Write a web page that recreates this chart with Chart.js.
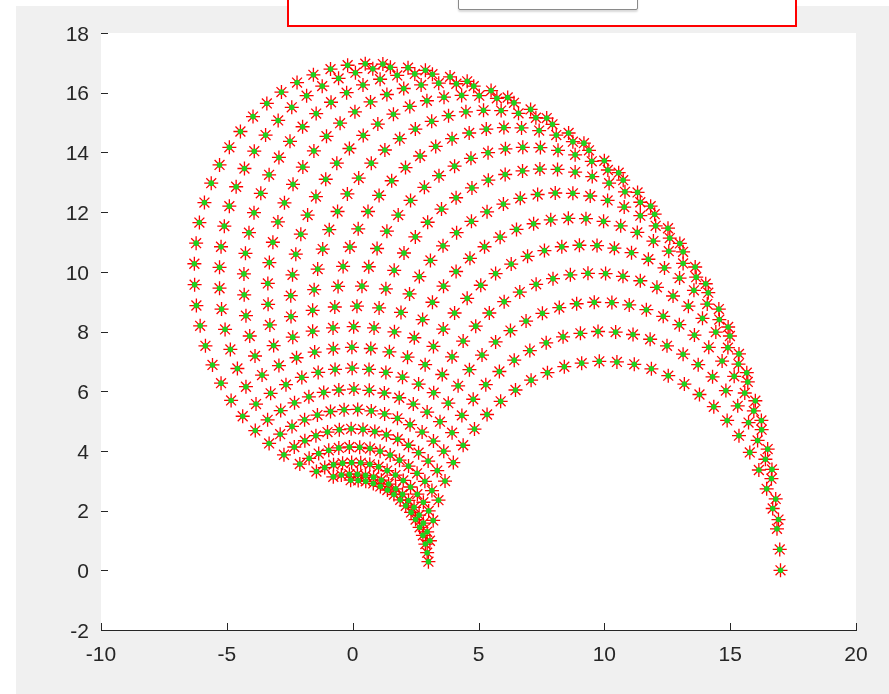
<!DOCTYPE html>
<html>
<head>
<meta charset="utf-8">
<script src="https://cdn.jsdelivr.net/npm/chart.js@4/dist/chart.umd.min.js"></script>
<style>
  html, body { margin: 0; padding: 0; background: #ffffff; }
  #wrap { position: relative; width: 889px; height: 694px; overflow: hidden; }
  #fig { position: absolute; left: 16px; top: 6px; right: 0; bottom: 0; background: #f0f0f0; }
  #frame { position: absolute; left: 287px; top: -6px; width: 506px; height: 29px;
           border: 2px solid #ff0000; background: #ffffff; }
  #tab { position: absolute; left: 458px; top: -12px; width: 178px; height: 20px;
         border: 1px solid #8a8a8a; border-radius: 2px; background: #ffffff;
         box-shadow: 0 2px 2px rgba(0,0,0,0.15); }
  canvas { position: absolute; left: 0; top: 0; }
</style>
</head>
<body>
<div id="wrap">
  <div id="fig"></div>
  <div id="frame"></div>
  <div id="tab"></div>
  <canvas id="myChart" width="889" height="694"></canvas>
</div>
<script>
const ctx = document.getElementById("myChart");

// one arc of end points per first-joint angle (16 arcs, 32 points each)
const x0 = [17.00, 16.97, 16.86, 16.69, 16.45, 16.14, 15.78, 15.35, 14.88, 14.35, 13.78, 13.18, 12.54, 11.87, 11.19, 10.50, 9.80, 9.10, 8.41, 7.74, 7.09, 6.47, 5.88, 5.34, 4.84, 4.39, 4.00, 3.67, 3.41, 3.20, 3.07, 3.01];
const y0 = [0.00, 0.70, 1.39, 2.07, 2.73, 3.36, 3.95, 4.51, 5.02, 5.48, 5.89, 6.24, 6.52, 6.75, 6.90, 6.98, 7.00, 6.94, 6.82, 6.62, 6.37, 6.04, 5.66, 5.22, 4.73, 4.19, 3.61, 2.99, 2.35, 1.67, 0.99, 0.29];
const x1 = [16.92, 16.81, 16.64, 16.40, 16.09, 15.73, 15.30, 14.83, 14.30, 13.73, 13.13, 12.49, 11.82, 11.14, 10.45, 9.75, 9.05, 8.36, 7.69, 7.04, 6.42, 5.83, 5.29, 4.79, 4.34, 3.95, 3.62, 3.36, 3.15, 3.02, 2.96, 2.96];
const y1 = [1.70, 2.39, 3.07, 3.72, 4.35, 4.95, 5.51, 6.02, 6.48, 6.89, 7.24, 7.52, 7.74, 7.90, 7.98, 8.00, 7.94, 7.82, 7.62, 7.36, 7.04, 6.66, 6.22, 5.73, 5.19, 4.61, 3.99, 3.34, 2.67, 1.99, 1.29, 0.59];
const x2 = [16.66, 16.49, 16.25, 15.94, 15.58, 15.16, 14.68, 14.15, 13.58, 12.98, 12.34, 11.67, 10.99, 10.30, 9.60, 8.90, 8.21, 7.54, 6.89, 6.27, 5.68, 5.14, 4.64, 4.19, 3.80, 3.47, 3.21, 3.00, 2.87, 2.81, 2.81, 2.89];
const y2 = [3.38, 4.06, 4.71, 5.34, 5.94, 6.50, 7.01, 7.47, 7.88, 8.23, 8.51, 8.73, 8.89, 8.97, 8.98, 8.93, 8.80, 8.61, 8.35, 8.03, 7.65, 7.21, 6.72, 6.18, 5.60, 4.98, 4.33, 3.66, 2.98, 2.28, 1.58, 0.88];
const x3 = [16.24, 16.00, 15.70, 15.33, 14.91, 14.43, 13.90, 13.34, 12.73, 12.09, 11.43, 10.74, 10.05, 9.35, 8.65, 7.96, 7.29, 6.64, 6.02, 5.43, 4.89, 4.39, 3.95, 3.56, 3.22, 2.96, 2.76, 2.62, 2.56, 2.57, 2.64, 2.79];
const y3 = [5.02, 5.68, 6.31, 6.91, 7.46, 7.98, 8.44, 8.85, 9.19, 9.48, 9.70, 9.85, 9.94, 9.95, 9.90, 9.77, 9.58, 9.32, 9.00, 8.62, 8.18, 7.68, 7.15, 6.56, 5.95, 5.30, 4.63, 3.94, 3.25, 2.55, 1.85, 1.17];
const x4 = [15.66, 15.35, 14.99, 14.57, 14.09, 13.56, 12.99, 12.39, 11.75, 11.08, 10.40, 9.71, 9.01, 8.31, 7.62, 6.95, 6.30, 5.68, 5.09, 4.55, 4.05, 3.60, 3.21, 2.88, 2.62, 2.41, 2.28, 2.22, 2.22, 2.30, 2.44, 2.66];
const y4 = [6.62, 7.25, 7.85, 8.40, 8.92, 9.38, 9.79, 10.13, 10.42, 10.64, 10.79, 10.88, 10.89, 10.84, 10.71, 10.52, 10.26, 9.94, 9.55, 9.11, 8.62, 8.08, 7.50, 6.89, 6.24, 5.57, 4.88, 4.19, 3.49, 2.79, 2.11, 1.44];
const x5 = [14.92, 14.55, 14.13, 13.65, 13.13, 12.56, 11.95, 11.31, 10.65, 9.97, 9.27, 8.57, 7.87, 7.19, 6.51, 5.86, 5.24, 4.66, 4.11, 3.61, 3.17, 2.78, 2.45, 2.18, 1.98, 1.85, 1.78, 1.79, 1.86, 2.01, 2.22, 2.50];
const y5 = [8.15, 8.75, 9.30, 9.82, 10.28, 10.69, 11.03, 11.32, 11.54, 11.69, 11.78, 11.79, 11.74, 11.61, 11.42, 11.16, 10.84, 10.45, 10.01, 9.52, 8.98, 8.40, 7.79, 7.14, 6.47, 5.78, 5.09, 4.39, 3.69, 3.01, 2.34, 1.70];
const x6 = [14.03, 13.61, 13.13, 12.60, 12.04, 11.43, 10.79, 10.13, 9.44, 8.75, 8.05, 7.35, 6.66, 5.99, 5.34, 4.72, 4.13, 3.59, 3.09, 2.65, 2.26, 1.92, 1.66, 1.46, 1.32, 1.26, 1.27, 1.34, 1.49, 1.70, 1.98, 2.32];
const y6 = [9.60, 10.16, 10.67, 11.13, 11.54, 11.88, 12.17, 12.39, 12.54, 12.63, 12.64, 12.59, 12.46, 12.27, 12.01, 11.69, 11.31, 10.87, 10.38, 9.84, 9.26, 8.64, 7.99, 7.32, 6.63, 5.94, 5.24, 4.54, 3.86, 3.19, 2.55, 1.94];
const x7 = [13.00, 12.53, 12.00, 11.43, 10.82, 10.19, 9.52, 8.84, 8.14, 7.44, 6.75, 6.06, 5.39, 4.74, 4.11, 3.53, 2.98, 2.49, 2.04, 1.65, 1.32, 1.05, 0.85, 0.72, 0.65, 0.66, 0.74, 0.88, 1.09, 1.37, 1.71, 2.11];
const y7 = [10.95, 11.46, 11.93, 12.33, 12.68, 12.97, 13.19, 13.34, 13.43, 13.44, 13.38, 13.26, 13.07, 12.81, 12.48, 12.10, 11.66, 11.17, 10.63, 10.05, 9.43, 8.79, 8.12, 7.43, 6.73, 6.03, 5.34, 4.65, 3.99, 3.34, 2.73, 2.16];
const x8 = [11.84, 11.32, 10.75, 10.14, 9.50, 8.84, 8.16, 7.46, 6.76, 6.07, 5.38, 4.70, 4.05, 3.43, 2.85, 2.30, 1.81, 1.36, 0.97, 0.64, 0.37, 0.17, 0.04, -0.03, -0.02, 0.05, 0.20, 0.41, 0.69, 1.03, 1.43, 1.89];
const y8 = [12.20, 12.66, 13.07, 13.41, 13.70, 13.92, 14.07, 14.16, 14.17, 14.12, 13.99, 13.80, 13.54, 13.22, 12.83, 12.39, 11.90, 11.36, 10.78, 10.17, 9.52, 8.85, 8.16, 7.47, 6.77, 6.07, 5.39, 4.72, 4.08, 3.47, 2.89, 2.36];
const x9 = [10.57, 10.00, 9.39, 8.75, 8.09, 7.41, 6.71, 6.01, 5.31, 4.63, 3.95, 3.30, 2.68, 2.10, 1.55, 1.05, 0.61, 0.22, -0.11, -0.38, -0.58, -0.71, -0.78, -0.77, -0.70, -0.55, -0.34, -0.06, 0.28, 0.68, 1.14, 1.64];
const y9 = [13.32, 13.72, 14.07, 14.36, 14.58, 14.73, 14.82, 14.83, 14.78, 14.65, 14.46, 14.20, 13.88, 13.49, 13.05, 12.56, 12.02, 11.44, 10.83, 10.18, 9.51, 8.82, 8.12, 7.42, 6.73, 6.04, 5.38, 4.74, 4.12, 3.55, 3.02, 2.54];
const x10 = [9.19, 8.58, 7.94, 7.28, 6.59, 5.90, 5.20, 4.50, 3.81, 3.14, 2.49, 1.87, 1.28, 0.74, 0.24, -0.21, -0.60, -0.93, -1.19, -1.39, -1.53, -1.59, -1.59, -1.51, -1.37, -1.15, -0.88, -0.53, -0.13, 0.32, 0.83, 1.38];
const y10 = [14.31, 14.65, 14.94, 15.16, 15.31, 15.40, 15.41, 15.36, 15.23, 15.04, 14.78, 14.46, 14.08, 13.64, 13.14, 12.61, 12.02, 11.41, 10.76, 10.09, 9.40, 8.71, 8.01, 7.31, 6.63, 5.96, 5.32, 4.71, 4.13, 3.60, 3.12, 2.69];
const x11 = [7.71, 7.07, 6.41, 5.73, 5.03, 4.33, 3.63, 2.95, 2.27, 1.62, 1.00, 0.42, -0.13, -0.63, -1.07, -1.46, -1.79, -2.06, -2.26, -2.39, -2.46, -2.45, -2.38, -2.23, -2.02, -1.74, -1.40, -1.00, -0.55, -0.04, 0.51, 1.10];
const y11 = [15.15, 15.44, 15.66, 15.81, 15.90, 15.91, 15.85, 15.73, 15.54, 15.28, 14.95, 14.57, 14.13, 13.64, 13.10, 12.52, 11.90, 11.26, 10.59, 9.90, 9.20, 8.50, 7.81, 7.12, 6.46, 5.81, 5.20, 4.63, 4.10, 3.61, 3.18, 2.81];
const x12 = [6.16, 5.50, 4.81, 4.12, 3.42, 2.72, 2.03, 1.36, 0.71, 0.09, -0.50, -1.04, -1.54, -1.98, -2.37, -2.71, -2.97, -3.17, -3.31, -3.37, -3.36, -3.29, -3.14, -2.93, -2.65, -2.31, -1.91, -1.46, -0.95, -0.40, 0.19, 0.82];
const y12 = [15.84, 16.07, 16.22, 16.30, 16.32, 16.26, 16.14, 15.94, 15.69, 15.36, 14.98, 14.54, 14.05, 13.51, 12.93, 12.31, 11.67, 10.99, 10.31, 9.61, 8.91, 8.22, 7.53, 6.86, 6.22, 5.61, 5.04, 4.51, 4.02, 3.59, 3.22, 2.91];
const x13 = [4.55, 3.87, 3.17, 2.47, 1.77, 1.09, 0.41, -0.24, -0.86, -1.45, -1.99, -2.49, -2.93, -3.32, -3.65, -3.92, -4.12, -4.26, -4.32, -4.31, -4.24, -4.09, -3.88, -3.60, -3.26, -2.86, -2.41, -1.90, -1.35, -0.76, -0.13, 0.52];
const y13 = [16.38, 16.53, 16.62, 16.63, 16.58, 16.45, 16.26, 16.00, 15.68, 15.30, 14.86, 14.37, 13.83, 13.25, 12.63, 11.98, 11.31, 10.62, 9.93, 9.23, 8.53, 7.85, 7.18, 6.54, 5.93, 5.35, 4.82, 4.34, 3.91, 3.54, 3.22, 2.98];
const x14 = [2.89, 2.20, 1.50, 0.80, 0.11, -0.56, -1.21, -1.83, -2.42, -2.96, -3.46, -3.91, -4.30, -4.63, -4.90, -5.10, -5.23, -5.29, -5.29, -5.21, -5.07, -4.86, -4.58, -4.24, -3.84, -3.38, -2.88, -2.32, -1.73, -1.11, -0.45, 0.22];
const y14 = [16.75, 16.84, 16.85, 16.80, 16.67, 16.48, 16.22, 15.90, 15.51, 15.07, 14.58, 14.04, 13.46, 12.85, 12.20, 11.53, 10.84, 10.15, 9.45, 8.75, 8.07, 7.40, 6.76, 6.15, 5.57, 5.04, 4.56, 4.13, 3.75, 3.44, 3.19, 3.01];
const x15 = [1.20, 0.50, -0.20, -0.88, -1.56, -2.21, -2.83, -3.41, -3.96, -4.46, -4.90, -5.29, -5.62, -5.89, -6.09, -6.22, -6.29, -6.28, -6.21, -6.06, -5.85, -5.57, -5.23, -4.83, -4.37, -3.87, -3.32, -2.73, -2.10, -1.44, -0.77, -0.08];
const y15 = [16.96, 16.97, 16.92, 16.79, 16.60, 16.34, 16.02, 15.64, 15.20, 14.70, 14.17, 13.58, 12.97, 12.32, 11.65, 10.96, 10.27, 9.57, 8.87, 8.19, 7.52, 6.88, 6.27, 5.69, 5.16, 4.68, 4.25, 3.87, 3.56, 3.31, 3.13, 3.02];

const xTicks = [-10, -5, 0, 5, 10, 15, 20];
const yTicks = [-2, 0, 2, 4, 6, 8, 10, 12, 14, 16, 18];

const allX = [x0, x1, x2, x3, x4, x5, x6, x7, x8, x9, x10, x11, x12, x13, x14, x15];
const allY = [y0, y1, y2, y3, y4, y5, y6, y7, y8, y9, y10, y11, y12, y13, y14, y15];

// each dataset gets its own copy of the points
function makePoints() {
  const pts = [];
  allX.forEach((xs, a) => xs.forEach((v, b) => pts.push({ x: v, y: allY[a][b] })));
  return pts;
}

const axisColor = "#262626";

// white axes box + inward tick marks like the matlab figure
const axesBox = {
  id: "axesBox",
  beforeDatasetsDraw(chart) {
    const c = chart.ctx;
    const a = chart.chartArea;
    c.save();
    c.fillStyle = "#ffffff";
    c.fillRect(a.left, a.top, a.right - a.left, a.bottom - a.top);
    c.restore();
  },
  afterDraw(chart) {
    const c = chart.ctx;
    const a = chart.chartArea;
    const sx = chart.scales.x;
    const sy = chart.scales.y;
    c.save();
    c.strokeStyle = axisColor;
    c.lineWidth = 1;
    c.beginPath();
    xTicks.forEach((t) => {
      const px = Math.round(sx.getPixelForValue(t)) + 0.5;
      c.moveTo(px, a.bottom);
      c.lineTo(px, a.bottom - 7);
    });
    yTicks.forEach((t) => {
      const py = Math.round(sy.getPixelForValue(t)) + 0.5;
      c.moveTo(a.left, py);
      c.lineTo(a.left + 7, py);
    });
    c.stroke();
    c.restore();
  },
};

new Chart(ctx, {
  type: "scatter",
  data: {
    datasets: [
      {
        label: "dot",
        data: makePoints(),
        pointStyle: "circle",
        pointRadius: 2.8,
        pointBackgroundColor: "#1ed21e",
        pointBorderColor: "#1ed21e",
        pointBorderWidth: 0,
        order: 0,
      },
      {
        label: "star",
        data: makePoints(),
        pointStyle: "star",
        pointRadius: 7,
        pointBackgroundColor: "#ff0000",
        pointBorderColor: "#ff0000",
        pointBorderWidth: 1.3,
        order: 1,
      },
    ],
  },
  plugins: [axesBox],
  options: {
    responsive: false,
    animation: false,
    events: [],
    layout: { padding: { top: 33, right: 33, left: 0, bottom: 0 } },
    plugins: {
      legend: { display: false },
      tooltip: { enabled: false },
    },
    scales: {
      x: {
        type: "linear",
        min: -10,
        max: 20,
        afterFit: (scale) => { scale.height = 64; },
        afterBuildTicks: (scale) => { scale.ticks = xTicks.map((v) => ({ value: v })); },
        grid: { display: false, drawTicks: false },
        border: { display: true, color: axisColor, width: 1 },
        ticks: {
          padding: 13,
          color: axisColor,
          font: { family: "'Liberation Sans', Arial, sans-serif", size: 21 },
          maxRotation: 0,
        },
      },
      y: {
        type: "linear",
        min: -2,
        max: 18,
        afterFit: (scale) => { scale.width = 101; },
        afterBuildTicks: (scale) => { scale.ticks = yTicks.map((v) => ({ value: v })); },
        grid: { display: false, drawTicks: false },
        border: { display: true, color: axisColor, width: 1 },
        ticks: {
          padding: 12,
          labelOffset: 2,
          color: axisColor,
          font: { family: "'Liberation Sans', Arial, sans-serif", size: 21 },
        },
      },
    },
  },
});
</script>
</body>
</html>
